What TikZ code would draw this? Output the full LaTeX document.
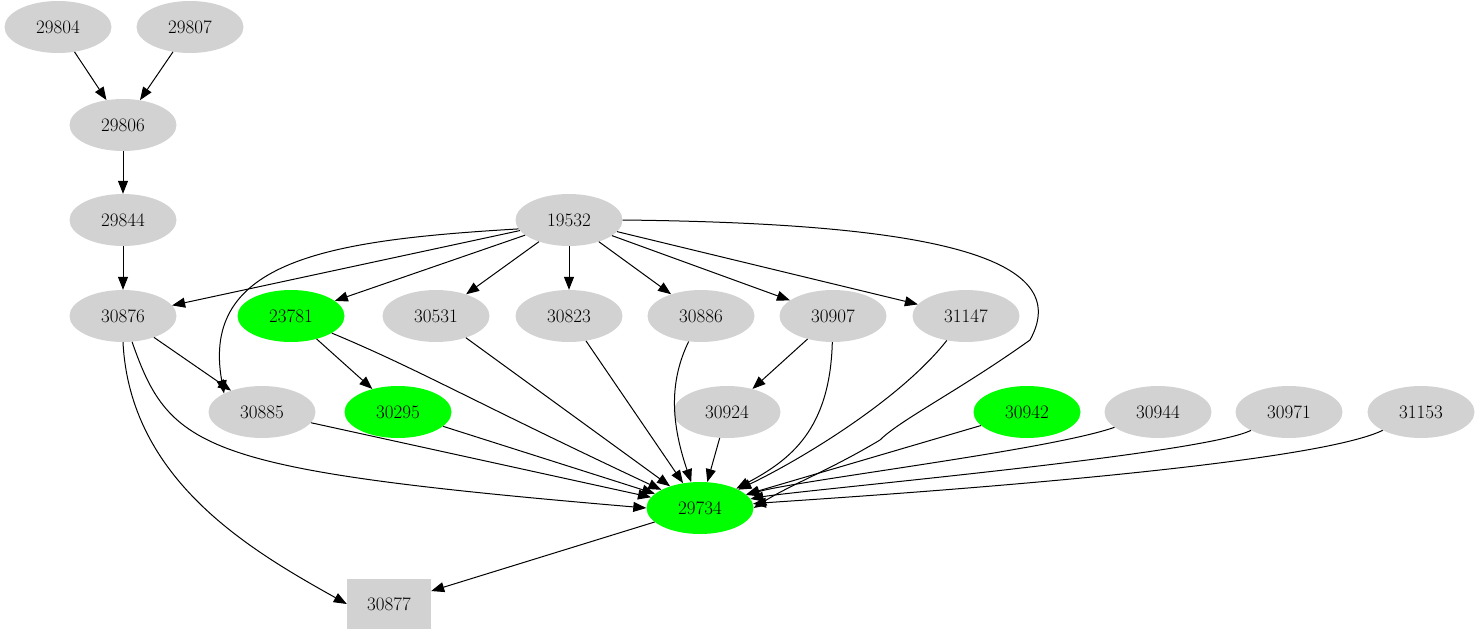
\documentclass[tikz,border=0pt]{standalone}
\usetikzlibrary{arrows.meta,shapes.geometric}
\begin{document}
\begin{tikzpicture}[x=1pt,y=-1pt,
 g/.style={ellipse,fill=gray!35,minimum width=107pt,minimum height=52pt,inner sep=0pt,font=\fontsize{19}{22}\selectfont},
 gr/.style={g,fill=green},
 bx/.style={rectangle,fill=gray!35,minimum width=84pt,minimum height=50pt,font=\fontsize{19}{22}\selectfont},
 e/.style={-{Triangle[length=13pt,width=10pt]},line width=1pt}]
\useasboundingbox (0,0) rectangle (1481,635);
\node[g] (a29804) at (58,27) {29804};
\node[g] (a29807) at (190,27) {29807};
\node[g] (a29806) at (123,125) {29806};
\node[g] (a29844) at (123,220) {29844};
\node[g] (a19532) at (569,220) {19532};
\node[g] (a30876) at (123,316) {30876};
\node[gr] (a23781) at (291,316) {23781};
\node[g] (a30531) at (436,316) {30531};
\node[g] (a30823) at (569,316) {30823};
\node[g] (a30886) at (701,316) {30886};
\node[g] (a30907) at (833,316) {30907};
\node[g] (a31147) at (966,316) {31147};
\node[g] (a30885) at (262,412) {30885};
\node[gr] (a30295) at (398,412) {30295};
\node[g] (a30924) at (727,412) {30924};
\node[gr] (a30942) at (1027,412) {30942};
\node[g] (a30944) at (1158,412) {30944};
\node[g] (a30971) at (1289,412) {30971};
\node[g] (a31153) at (1421,412) {31153};
\node[gr] (a29734) at (700,508) {29734};
\node[bx] (a30877) at (389,604) {30877};
\draw[e] (a29804) -- (a29806);
\draw[e] (a29807) -- (a29806);
\draw[e] (a29806) -- (a29844);
\draw[e] (a29844) -- (a30876);
\draw[e] (a19532) -- (a30876);
\draw[e] (a19532.190) .. controls (330,240) and (200,260) .. (a30885.north west);
\draw[e] (a19532) -- (a23781);
\draw[e] (a19532) -- (a30531);
\draw[e] (a19532) -- (a30823);
\draw[e] (a19532) -- (a30886);
\draw[e] (a19532) -- (a30907);
\draw[e] (a19532) -- (a31147);
\draw[e] (a19532.east) .. controls (900,223) and (1080,250) .. (1030,340) .. controls (960,390) and (900,420) .. (880,440) .. controls (830,470) and (790,485) .. (a29734.east);
\draw[e] (a30876) -- (a30885);
\draw[e] (a30876) .. controls (170,450) and (200,470) .. (a29734.west);
\draw[e] (a30876.south) .. controls (130,480) and (250,550) .. (a30877.west);
\draw[e] (a23781) -- (a30295);
\draw[e] (a23781) .. controls (420,370) and (470,400) .. (a29734);
\draw[e] (a30531) -- (a29734);
\draw[e] (a30823) -- (a29734);
\draw[e] (a30886) .. controls (670,380) and (670,420) .. (a29734);
\draw[e] (a30907) -- (a30924);
\draw[e] (a30907) .. controls (830,430) and (790,460) .. (a29734);
\draw[e] (a31147) .. controls (900,400) and (800,460) .. (a29734);
\draw[e] (a30885) -- (a29734);
\draw[e] (a30295) -- (a29734);
\draw[e] (a30924) -- (a29734);
\draw[e] (a30942) -- (a29734);
\draw[e] (a30944) .. controls (1050,450) and (800,480) .. (a29734);
\draw[e] (a30971) .. controls (1200,455) and (800,490) .. (a29734);
\draw[e] (a31153) .. controls (1300,470) and (800,500) .. (a29734);
\draw[e] (a29734) -- (a30877);
\end{tikzpicture}
\end{document}
